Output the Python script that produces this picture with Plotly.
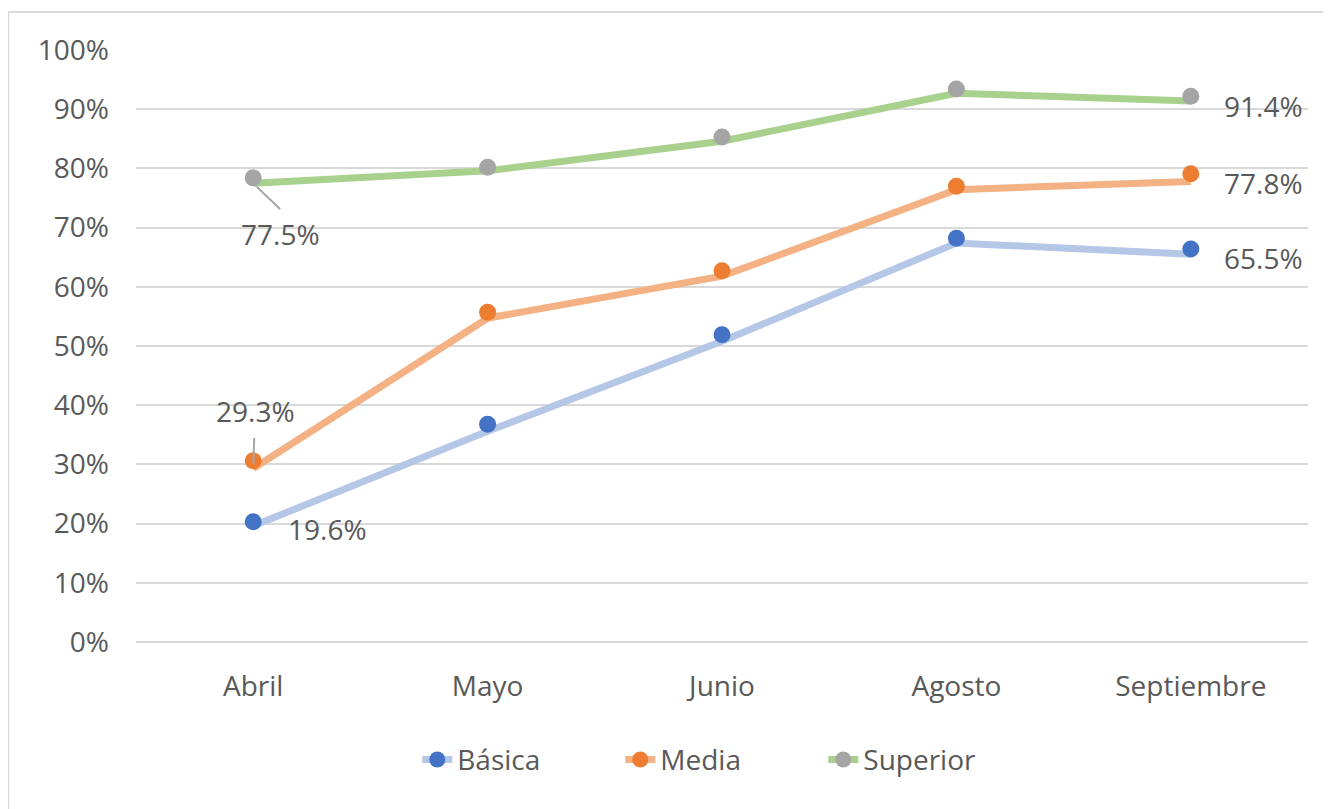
import plotly.graph_objects as go

categories = ["Abril", "Mayo", "Junio", "Agosto", "Septiembre"]

# line values (fractions)
basica_line = [0.196, 0.356, 0.508, 0.674, 0.655]
media_line = [0.293, 0.547, 0.618, 0.764, 0.778]
superior_line = [0.775, 0.796, 0.846, 0.927, 0.914]

# marker values (markers sit slightly above the lines)
basica_mark = [0.203, 0.368, 0.519, 0.682, 0.664]
media_mark = [0.306, 0.557, 0.627, 0.770, 0.791]
superior_mark = [0.784, 0.802, 0.853, 0.934, 0.922]

series_names = ["Básica", "Media", "Superior"]
line_colors = ["#b4c7e7", "#f4b183", "#a9d18e"]
marker_colors = ["#4472c4", "#ed7d31", "#a5a5a5"]

FONT = "'Open Sans', Lato, sans-serif"
FS = 28
TXT = "#595959"

fig = go.Figure()
lines = [basica_line, media_line, superior_line]
marks = [basica_mark, media_mark, superior_mark]
for name, lv, lc in zip(series_names, lines, line_colors):
    fig.add_trace(go.Scatter(x=categories, y=lv, mode="lines", line=dict(color=lc, width=7),
                             showlegend=False, hoverinfo="skip"))
for name, mv, mc in zip(series_names, marks, marker_colors):
    fig.add_trace(go.Scatter(x=categories, y=mv, mode="markers", marker=dict(color=mc, size=17),
                             showlegend=False, name=name))
for name, lc, mc in zip(series_names, line_colors, marker_colors):
    fig.add_trace(go.Scatter(x=[None], y=[None], mode="lines+markers", name=name,
                             line=dict(color=lc, width=7), marker=dict(color=mc, size=17)))

# data labels: (series values, index, ax, ay, leader line, xanchor, yanchor)
labels = [
    (superior_line, 0, 27, 26, True, "center", "top"),
    (media_line, 0, 2, -58, True, "auto", "auto"),
    (basica_line, 0, 74, 3, False, "auto", "auto"),
    (superior_line, 4, 73, 5, False, "auto", "auto"),
    (media_line, 4, 73, 2, False, "auto", "auto"),
    (basica_line, 4, 73, 4, False, "auto", "auto"),
]
for vals, i, ax, ay, arrow, xa, ya in labels:
    fig.add_annotation(x=categories[i], y=vals[i], text=f"{vals[i]*100:.1f}%",
                       showarrow=True, arrowhead=0, arrowwidth=2,
                       arrowcolor="#a6a6a6" if arrow else "rgba(0,0,0,0)",
                       ax=ax, ay=ay, standoff=5,
                       borderpad=(8 if ya == "auto" else 5) if arrow else 0,
                       xanchor=xa, yanchor=ya,
                       font=dict(family=FONT, size=FS, color=TXT))

fig.add_shape(type="line", xref="paper", yref="paper", x0=-0.109, x1=1.5, y0=1.064, y1=1.064,
              line=dict(color="#d9d9d9", width=2))
fig.add_shape(type="line", xref="paper", yref="paper", x0=-0.109, x1=-0.109, y0=-1, y1=1.064,
              line=dict(color="#d9d9d9", width=2))

fig.update_layout(
    width=1323, height=801,
    margin=dict(l=128, r=23, t=42, b=167),
    paper_bgcolor="white", plot_bgcolor="white",
    font=dict(family=FONT, size=FS, color=TXT),
    xaxis=dict(range=[-0.5, 4.5], showgrid=False, showline=False, zeroline=False, ticks="",
               ticklabelstandoff=25, tickfont=dict(size=FS, color=TXT)),
    yaxis=dict(range=[0, 1], dtick=0.1, tickformat=".0%", showgrid=True, gridcolor="#d9d9d9",
               gridwidth=2, zeroline=True, zerolinecolor="#d9d9d9", zerolinewidth=2,
               showline=False, ticks="", ticklabelstandoff=26, tickfont=dict(size=FS, color=TXT)),
    legend=dict(orientation="h", x=0.24, xanchor="left", y=-0.199, yanchor="middle",
                font=dict(size=FS, color=TXT), entrywidth=158, entrywidthmode="pixels",
                bgcolor="rgba(0,0,0,0)"),
    showlegend=True,
)

fig.write_html("out.html")
